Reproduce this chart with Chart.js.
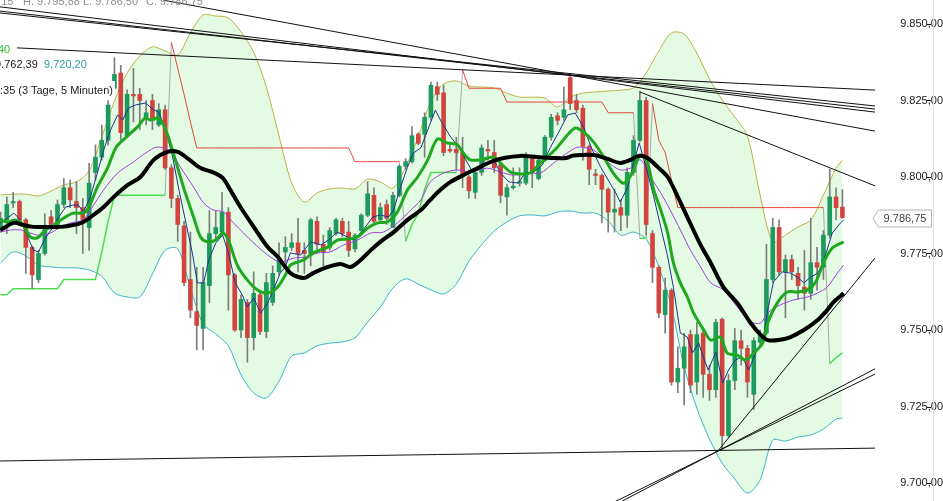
<!DOCTYPE html>
<html>
<head>
<meta charset="utf-8">
<script src="https://cdn.jsdelivr.net/npm/chart.js@4.4.0/dist/chart.umd.min.js"></script>
<style>
html, body { margin: 0; padding: 0; background: #fff; overflow: hidden; }
#wrap { position: relative; width: 943px; height: 501px; }
canvas { display: block; }
.lbl { position: absolute; font: 11px "Liberation Sans", Arial, sans-serif; line-height: 11px; white-space: nowrap; }
</style>
</head>
<body>
<div id="wrap">
  <canvas id="chart" width="943" height="501"></canvas>
  <div class="lbl" style="left:-8px;top:-4px;color:#8f8f8f">0,15</div>
  <div class="lbl" style="left:23px;top:-4px;color:#8f8f8f">H. 9.795,88</div>
  <div class="lbl" style="left:83px;top:-4px;color:#8f8f8f">L. 9.786,50</div>
  <div class="lbl" style="left:146px;top:-4px;color:#8f8f8f">C. 9.786,75</div>
  <div class="lbl" style="left:-2px;top:44px;color:#33bb33">40</div>
  <div class="lbl" style="left:-5px;top:59px;color:#1a1a1a">9.762,39</div>
  <div class="lbl" style="left:44px;top:59px;color:#2a9ca8">9.720,20</div>
  <div class="lbl" style="left:0;top:81px;height:18px;line-height:18px;padding-right:2px;background:#fff;color:#1a1a1a">:35 (3 Tage, 5 Minuten)</div>
</div>
<script>
// 5-minute candles, oldest first
const opens = [9783.5, 9786, 9791.5, 9792, 9786, 9777, 9766.5, 9775, 9787, 9783.5,
  9791, 9796.5, 9792, 9790, 9783.5, 9801.5, 9806.5, 9812, 9829, 9834,
  9813.5, 9827, 9827, 9819.5, 9825, 9817, 9822, 9803, 9793, 9784,
  9766.5, 9756, 9750.5, 9764.5, 9781.5, 9782, 9788.5, 9768, 9750, 9759,
  9747.5, 9761.5, 9749.5, 9759, 9769, 9775.5, 9777, 9778.5, 9776, 9775,
  9785.5, 9778, 9777, 9781.5, 9785.5, 9782, 9776.5, 9782.5, 9787.5, 9794,
  9786, 9791, 9783.5, 9794, 9803.5, 9805, 9814, 9814, 9819.5, 9829.5,
  9827.5, 9809, 9809, 9808, 9800, 9795, 9801.5, 9809, 9808, 9804,
  9793.5, 9796.5, 9798, 9798, 9806.5, 9799.5, 9805.5, 9813, 9820, 9819.5,
  9832.5, 9825, 9822.5, 9810, 9801, 9800.5, 9796, 9788.5, 9790, 9787.5,
  9801.5, 9812, 9825, 9781.5, 9770.5, 9755, 9763, 9733, 9737.5, 9748.5,
  9733, 9749, 9735.5, 9730.5, 9753.5, 9715.5, 9733.5, 9746.5, 9744, 9729,
  9746, 9749, 9766.5, 9783.5, 9769, 9773, 9768.5, 9764, 9762, 9772,
  9770.5, 9781, 9793.5, 9790.15];
const highs = [9788.5, 9793.5, 9795, 9792.5, 9786.5, 9777.5, 9776, 9788, 9789, 9792.5,
  9799.5, 9799, 9798.5, 9793, 9804.5, 9810.5, 9817, 9825, 9839, 9836.5,
  9828.5, 9835.5, 9829, 9825, 9827, 9824, 9823.5, 9804, 9794, 9785.5,
  9782, 9770.5, 9770.5, 9789, 9789, 9795, 9790, 9768.5, 9761.5, 9760,
  9769, 9763, 9768.5, 9771, 9778.5, 9780.5, 9781.5, 9786.5, 9778.5, 9786.5,
  9787, 9781, 9783.5, 9786.5, 9786.5, 9785.5, 9781.5, 9788, 9798.5, 9796.5,
  9791.5, 9792.5, 9795, 9804, 9806, 9816.5, 9814.5, 9821, 9831, 9831,
  9830, 9810.5, 9813, 9813, 9800.5, 9802.5, 9810.5, 9812, 9812, 9804.5,
  9797.5, 9803, 9803, 9808, 9807, 9806.5, 9813.5, 9820.5, 9821, 9829.5,
  9833.5, 9827, 9823.5, 9810.5, 9802.5, 9801, 9796.5, 9796, 9792.5, 9803,
  9813.5, 9828, 9826, 9782.5, 9771, 9767, 9763.5, 9744.5, 9749, 9750,
  9752.5, 9750, 9738.5, 9753.5, 9754, 9735.5, 9750.5, 9750, 9745, 9747.5,
  9750, 9778, 9786.5, 9786, 9774.5, 9774.5, 9770.5, 9776, 9786.5, 9777,
  9782.5, 9802.5, 9796.5, 9795.88];
const lows = [9782, 9781.5, 9790, 9785.5, 9768.5, 9763.5, 9765.5, 9774.5, 9783, 9783,
  9790, 9790, 9781.5, 9775, 9776, 9799, 9805.5, 9810.5, 9828, 9812,
  9813, 9818, 9815.5, 9817, 9815.5, 9816.5, 9802.5, 9790, 9779, 9764.5,
  9754, 9743.5, 9743.5, 9759, 9779.5, 9781, 9756.5, 9749.5, 9747.5, 9739.5,
  9743.5, 9748.5, 9747.5, 9758, 9768, 9770.5, 9776, 9769, 9768.5, 9771,
  9775, 9771, 9776, 9781, 9780.5, 9774, 9775.5, 9782, 9787, 9785,
  9785, 9784.5, 9783.5, 9793.5, 9802.5, 9804.5, 9810.5, 9806.5, 9818.5, 9825,
  9807, 9808, 9802.5, 9796.5, 9793, 9793, 9800.5, 9805.5, 9801.5, 9791.5,
  9787.5, 9796, 9797, 9797.5, 9796.5, 9799, 9805, 9812, 9817, 9818.5,
  9822, 9821, 9805.5, 9797.5, 9797.5, 9785, 9782, 9782, 9782.5, 9783.5,
  9800.5, 9811.5, 9781, 9765.5, 9754, 9749, 9732, 9729.5, 9725.5, 9729.5,
  9729, 9728, 9727, 9728, 9711, 9715, 9730.5, 9738.5, 9728, 9724,
  9745, 9748.5, 9765.5, 9768, 9754, 9766.5, 9760, 9756.5, 9760, 9763,
  9766.5, 9780, 9786, 9786.5];
const closes = [9786.5, 9791, 9792, 9786, 9777, 9768, 9775, 9783.5, 9784.5, 9791,
  9796.5, 9792.5, 9790, 9786, 9798, 9806.5, 9812, 9823.5, 9833.5, 9814.5,
  9827, 9826.5, 9825, 9821, 9818.5, 9822, 9803, 9793, 9784.5, 9765.5,
  9756.5, 9751.5, 9765.5, 9781.5, 9783.5, 9788.5, 9768, 9750, 9760, 9747.5,
  9762, 9749.5, 9765.5, 9768.5, 9773, 9777, 9778.5, 9775, 9775, 9786,
  9778, 9775.5, 9782.5, 9786, 9781.5, 9776, 9781, 9787.5, 9794.5, 9785.5,
  9790, 9786.5, 9794, 9803.5, 9805, 9813.5, 9811, 9819.5, 9830, 9827,
  9808, 9808.5, 9808, 9800.5, 9795.5, 9801.5, 9809.5, 9808.5, 9803, 9794,
  9796.5, 9797, 9798.5, 9806.5, 9801.5, 9805.5, 9813, 9819.5, 9818.5, 9822,
  9824, 9822, 9810, 9802.5, 9800.5, 9796, 9788.5, 9789.5, 9787.5, 9801.5,
  9812, 9825, 9784.5, 9770.5, 9755.5, 9763, 9733, 9737.5, 9744.5, 9732,
  9748.5, 9735.5, 9730.5, 9752.5, 9715.5, 9733.5, 9746.5, 9744, 9733, 9746.5,
  9748.5, 9766.5, 9783.5, 9769, 9773, 9769, 9764.5, 9762, 9772, 9770.5,
  9781, 9793.5, 9790, 9786.75];

// Bollinger bands, read at every second candle
const bandAt = [0, 2, 4, 6, 8, 10, 12, 14, 16, 18, 20, 22, 24, 26, 28, 30, 32, 34, 36, 38,
  40, 42, 44, 46, 48, 50, 52, 54, 56, 58, 60, 62, 64, 66, 68, 70, 72, 74, 76, 78,
  80, 82, 84, 86, 88, 90, 92, 94, 96, 98, 100, 102, 104, 106, 108, 110, 112, 114, 116, 118,
  120, 122, 124, 126, 128, 130, 132, 133];
const bandUpper = [9794.1, 9794.4, 9794.4, 9793.8, 9795.4, 9797.4, 9798.4, 9802, 9813.1, 9824.8,
  9834, 9839.5, 9842.5, 9841.2, 9839.9, 9847.1, 9852.9, 9852.6, 9852, 9847.4,
  9840.8, 9829.4, 9813.4, 9798, 9791.8, 9794.8, 9796.1, 9796.4, 9796.1, 9799.3,
  9798.4, 9796.4, 9803.3, 9813.1, 9824.8, 9830.4, 9831.4, 9829.7, 9829.4, 9829.1,
  9827.4, 9826.1, 9826.1, 9825.8, 9822.9, 9826.1, 9827.4, 9827.8, 9828.1, 9828.4,
  9829.1, 9834, 9841.2, 9847.1, 9846.7, 9840.5, 9832, 9825.2, 9819.6, 9813.4,
  9794.1, 9778.8, 9781, 9783.7, 9785.9, 9794.1, 9802.9, 9805.5];
const bandLower = [9771.9, 9775.5, 9774.2, 9771.2, 9770.6, 9770.3, 9770.3, 9769.6, 9767.6, 9762.1,
  9760.8, 9760.8, 9768.3, 9776.1, 9776.5, 9763.7, 9752, 9748.7, 9744.8, 9735.3,
  9729.4, 9727.8, 9733.3, 9741.5, 9742.5, 9744.8, 9745.7, 9746.1, 9747.4, 9752.6,
  9757.5, 9763.7, 9766.7, 9765, 9763.1, 9761.8, 9765, 9772.5, 9777.8, 9782.3,
  9785.3, 9787.3, 9787.6, 9787.3, 9788.6, 9788.9, 9788.2, 9788.2, 9785.6, 9781,
  9782, 9779.7, 9770.6, 9757.5, 9737.9, 9724.5, 9714.4, 9706.5, 9701.3, 9696.7,
  9701, 9714, 9713.7, 9715, 9715.7, 9717.6, 9720.9, 9721.2];

// moving averages as [candle index, price]
const maFast = [[0, 9785], [1.1, 9786.6], [2.1, 9788.2], [3.2, 9785.9], [4.3, 9780.4], [5.2, 9776.1], [6, 9775.5], [7.1, 9780.1],
  [8.2, 9783.3], [9.2, 9786.9], [10.3, 9790.2], [11.4, 9790.8], [12.3, 9790.8], [13.1, 9788.6], [14.2, 9793.5], [15.3, 9801.3],
  [16.3, 9808.8], [17.4, 9815.4], [18.5, 9820.3], [19.3, 9818.6], [20.2, 9822.5], [21.3, 9823.5], [22.9, 9824.2], [24.2, 9821.9],
  [25, 9821.2], [26.1, 9815.4], [27.2, 9806.5], [28.1, 9796.7], [29.2, 9785.9], [30.3, 9775.2], [31.1, 9765.4], [32.1, 9765.4],
  [32.9, 9772.9], [34, 9778.4], [35.1, 9781], [36, 9775.2], [37.1, 9765.4], [38.2, 9761.4], [39, 9757.5], [40, 9760.5],
  [41.1, 9755.5], [42.2, 9758.8], [43.1, 9763.1], [44.2, 9768.6], [45, 9770.6], [45.8, 9775.2], [47.4, 9774.5], [49, 9778.8],
  [50.6, 9777.8], [51.8, 9779.4], [53.2, 9782], [54.8, 9780.4], [55.8, 9779.4], [57.3, 9782.7], [58.8, 9786.9], [60, 9787.6],
  [61.3, 9786.9], [62.1, 9789.2], [63.2, 9796.7], [64.3, 9803.3], [65.2, 9807.8], [66.4, 9809.5], [67.5, 9815.4], [68.7, 9821.9],
  [69.5, 9818.6], [71.1, 9813.1], [72.4, 9809.8], [73.5, 9805.6], [74.6, 9801.6], [75.5, 9802.9], [76.6, 9805.6], [77.7, 9806.5],
  [79, 9801.3], [80.3, 9798.4], [81.8, 9798], [82.9, 9801.3], [84.2, 9801.6], [85.6, 9803.9], [86.9, 9809.8], [88.2, 9814.7],
  [89.6, 9820.3], [90.8, 9820.9], [92.1, 9816.3], [93.5, 9808.8], [94.8, 9803.3], [96, 9799], [97.2, 9794.8], [97.9, 9791.8],
  [99.1, 9796.7], [100, 9804.6], [100.9, 9811.1], [102.1, 9802.3], [103.2, 9793.5], [104.3, 9783.7], [105.4, 9773.9], [106.3, 9764],
  [107.4, 9749], [108.5, 9747.7], [109.3, 9742.5], [110.3, 9745.7], [111.2, 9740.2], [111.8, 9736.9], [113, 9742.8], [114.1, 9732.7],
  [115, 9736.9], [116.1, 9740.2], [117.2, 9741.2], [118.2, 9736.9], [119.3, 9742.5], [120.4, 9746.1], [121.2, 9756.5], [122.1, 9765.7],
  [123.5, 9769], [124.8, 9768.6], [125.9, 9767.3], [126.9, 9765.4], [128, 9767.3], [129.1, 9768.6], [130, 9772.2], [131.4, 9781.7],
  [132.7, 9785], [133.2, 9785.9]];
const maMid = [[0, 9782], [1.6, 9782.7], [3.2, 9782.7], [4.7, 9781.7], [6, 9781], [7.9, 9781.7], [9.5, 9783.7], [11.1, 9785],
  [13, 9785.9], [14.2, 9789.2], [16.3, 9795.8], [18.5, 9801.3], [21, 9804.9], [22.9, 9807.8], [24.8, 9809.8], [26.9, 9808.2],
  [28.4, 9803.3], [30.5, 9796.7], [32.1, 9791.5], [33.6, 9789.2], [35.2, 9788.6], [36.8, 9785], [38.4, 9781.7], [40, 9778.4],
  [42.2, 9774.5], [44.2, 9772.2], [46.3, 9773.5], [48.5, 9773.9], [50.1, 9775.2], [52.1, 9775.5], [54.2, 9777.8], [56.4, 9779.4],
  [58.5, 9781.7], [60.5, 9782], [62.7, 9785], [64.8, 9789.2], [66.4, 9792.5], [67.9, 9798.4], [70, 9801.3], [72.2, 9802.3],
  [74.2, 9801.6], [76.9, 9802.9], [79, 9801.6], [81, 9800.6], [83.3, 9801.3], [85.3, 9801.3], [87.4, 9804.6], [89.3, 9807.5],
  [90.8, 9809.5], [91.6, 9809.8], [93.7, 9808.8], [95.9, 9804.9], [97.9, 9802.3], [99.5, 9802.9], [101.1, 9805.6], [102.7, 9800],
  [104.3, 9794.8], [105.8, 9789.2], [107.4, 9782.7], [109, 9776.1], [110.6, 9770.6], [112.2, 9765.4], [114.2, 9763.1], [116.4, 9757.5],
  [118.5, 9752.6], [120.1, 9752.3], [121.2, 9755.6], [123.2, 9758.2], [125.3, 9759.8], [127.5, 9760.8], [129.1, 9762.1], [130.6, 9764],
  [132.2, 9768.6], [133.2, 9771.2]];
const maGreen = [[0, 9785.9], [1.1, 9785.3], [2.4, 9785.9], [3.6, 9784.3], [4.7, 9780.4], [5.8, 9780.1], [7.1, 9782.7], [8.4, 9784.3],
  [10, 9786.6], [11.5, 9788.2], [13, 9788.2], [13.9, 9789.9], [15.3, 9796.7], [16.9, 9802.9], [18.2, 9809.5], [19.7, 9812.7],
  [21.6, 9816.3], [22.9, 9819.3], [23.7, 9818.6], [25, 9819.3], [26.1, 9815.4], [27.3, 9807.8], [28.9, 9796.7], [30.5, 9786.9],
  [31.6, 9780.4], [32.7, 9778.8], [34, 9779.4], [35.1, 9781.7], [36, 9779.4], [37.4, 9771.2], [39, 9766.3], [40.6, 9763.1],
  [42.2, 9762.1], [43.8, 9764.1], [45, 9768], [45.8, 9771.2], [47.9, 9772.9], [49.4, 9775.2], [51.7, 9777.1], [53.2, 9779.4],
  [54.8, 9779.7], [56.4, 9780.4], [58, 9783.3], [59.6, 9785], [61.1, 9785.3], [62.7, 9788.6], [64.3, 9795.8], [65.9, 9800],
  [67.5, 9805.6], [69, 9812.4], [70.6, 9811.1], [72.2, 9810.5], [73.1, 9807.8], [74.2, 9805.6], [75.8, 9805.6], [77.9, 9806.5],
  [79.3, 9803.9], [80.6, 9801.6], [82.1, 9801], [83.7, 9801.3], [85, 9803.9], [86.4, 9806.5], [88, 9809.8], [89.3, 9813.1],
  [90.8, 9816], [92.1, 9814.7], [93.7, 9811.4], [95.3, 9806.5], [96.8, 9801.3], [98.3, 9798], [99.1, 9799], [100, 9802.3],
  [101.1, 9807.2], [102.2, 9804.6], [103.2, 9795.8], [104.3, 9789.2], [105.4, 9781.7], [106.3, 9771.9], [107.4, 9765.4], [108.5, 9760.8],
  [109.5, 9755.5], [111.1, 9750], [112.2, 9746.7], [113.7, 9747.7], [114.8, 9742.5], [116.4, 9741.8], [117.7, 9740.2], [119, 9742.5],
  [120.4, 9745.7], [121.2, 9752.3], [122.7, 9758.8], [124.3, 9762.4], [125.9, 9762.4], [127.5, 9763.1], [128.8, 9765.7], [130, 9771.9],
  [131.4, 9776.8], [133.2, 9778.8]];
const maSlow = [[0, 9782.7], [2.1, 9785], [3.6, 9784.3], [5.2, 9783.7], [7.4, 9783.7], [9.5, 9783.7], [11.5, 9784.3], [13.1, 9785.3],
  [14.7, 9787.6], [16.3, 9790.2], [17.9, 9793.5], [20.1, 9797.4], [22.1, 9800], [24.2, 9805.6], [26.4, 9808.2], [28, 9808.2],
  [29.5, 9806.2], [31.6, 9802.9], [33.5, 9801.6], [35.1, 9799.7], [36.3, 9795.8], [37.9, 9790.2], [40, 9783.7], [42.2, 9777.1],
  [43.8, 9773.9], [45.8, 9768.6], [47.9, 9767], [49.4, 9768.6], [51.7, 9770.6], [53.7, 9771.6], [55.3, 9770.6], [56.9, 9772.9],
  [58.5, 9776.1], [60, 9778.8], [62.1, 9782], [64.3, 9786], [66.4, 9789.2], [67.9, 9792.5], [69.5, 9795.8], [71.1, 9798.4],
  [73.1, 9800.6], [75.4, 9802.9], [77.4, 9804.9], [79.5, 9806.2], [82.1, 9806.9], [84.8, 9806.5], [87.4, 9806.2], [89.3, 9806.2],
  [90.5, 9807], [93.7, 9807.2], [95.9, 9805.9], [97.9, 9804.6], [99.5, 9805.6], [100.8, 9806.9], [102.2, 9806.2], [103.8, 9803.3],
  [105.4, 9800], [107, 9793.5], [108.5, 9786.9], [110.6, 9777.8], [112.2, 9771.9], [114.2, 9764], [116.4, 9758.8], [118.5, 9752.3],
  [120.1, 9748.4], [121.2, 9746.7], [122.9, 9746.7], [124.8, 9747.7], [126.9, 9750], [129.1, 9753.3], [130.6, 9756.5], [131.6, 9759.1],
  [133.2, 9762]];

// trailing stop: long side (green) and short side (red), per candle
const stopLong = [9761.5, 9761.5, 9763.5, 9763.5, 9763.5, 9763.5, 9763.5, 9763.5, 9763.5, 9763.5,
  9766.5, 9766.5, 9766.5, 9766.5, 9766.5, 9766.5, 9775.5, 9785.5, 9794, 9794,
  9794, 9794, 9794, 9794, 9794, 9794, 9794, null, null, null,
  null, null, null, null, null, null, null, null, null, null,
  null, null, null, null, null, null, null, null, null, null,
  null, null, null, null, null, null, null, null, null, null,
  null, null, null, null, 9779, 9784.5, 9788, 9796, 9801.5, 9801.5,
  9801.5, 9801.5, 9801.5, null, null, null, null, null, null, null,
  null, null, null, null, null, null, null, null, null, null,
  null, null, null, null, null, null, null, null, null, null,
  null, 9780, 9780, null, null, null, null, null, null, null,
  null, null, null, null, null, null, null, null, null, null,
  null, null, null, null, null, null, null, null, null, null,
  null, 9739, 9741, 9742.5];
const stopShort = [null, null, null, null, null, null, null, null, null, null,
  null, null, null, null, null, null, null, null, null, null,
  null, null, null, null, null, null, null, 9844, 9835.5, 9827,
  9818, 9809.5, 9809.5, 9809.5, 9809.5, 9809.5, 9809.5, 9809.5, 9809.5, 9809.5,
  9809.5, 9809.5, 9809.5, 9809.5, 9809.5, 9809.5, 9809.5, 9809.5, 9809.5, 9809.5,
  9809.5, 9809.5, 9809.5, 9809.5, 9809.5, 9809.5, 9805, 9805, 9805, 9805,
  9805, 9805, 9805, 9805, null, null, null, null, null, null,
  null, null, null, 9835, 9829, 9829, 9829, 9829, 9829, 9829,
  9824.5, 9824.5, 9824.5, 9824.5, 9824.5, 9824.5, 9824.5, 9824.5, 9824.5, 9824.5,
  9824.5, 9824.5, 9824.5, 9824.5, 9824.5, 9824.5, 9821, 9821, 9821, 9821,
  9821, null, null, 9824, 9812, 9808, 9799, 9790, 9790, 9790,
  9790, 9790, 9790, 9790, 9790, 9790, 9790, 9790, 9790, 9790,
  9790, 9790, 9790, 9790, 9790, 9790, 9790, 9790, 9790, 9790,
  9790, null, null, null];

// hand-drawn trend lines: [index1, price1, index2, price2]
const trendLines = [
  [2.6, 9842.2, 138.15, 9828.4],
  [-0.08, 9853.6, 138.15, 9823.2],
  [-0.08, 9854.2, 138.15, 9822.2],
  [-0.08, 9855.6, 138.15, 9821.2],
  [25.7, 9857.8, 138.15, 9815.0],
  [101.0, 9827.8, 138.15, 9797.1],
  [-0.08, 9707.2, 138.15, 9711.4],
  [113.3, 9710.4, 138.15, 9773.5],
  [94.7, 9690.3, 138.15, 9737.3],
  [94.7, 9691.5, 138.15, 9735.6]
];

const yTicks = [9700, 9725, 9750, 9775, 9800, 9825, 9850];

function fmt(v) {
  const parts = v.toFixed(2).split('.');
  return parts[0].replace(/\B(?=(\d{3})+(?!\d))/g, '.') + ',' + parts[1];
}
const pts = arr => arr.map(([x, y]) => ({ x, y }));

const UP = '#1e9a5c', DOWN = '#d2453f';

// gray connectors where the stop flips side
const flips = [];
for (let i = 1; i < closes.length; i++) {
  if (stopLong[i - 1] != null && stopShort[i] != null) {
    flips.push({ x: i - 1, y: stopLong[i - 1] }, { x: i, y: stopShort[i] }, { x: i, y: null });
  }
  if (stopShort[i - 1] != null && stopLong[i] != null) {
    flips.push({ x: i - 1, y: stopShort[i - 1] }, { x: i, y: stopLong[i] }, { x: i, y: null });
  }
}

const thin = { type: 'line', pointRadius: 0, borderWidth: 1, fill: false };

const datasets = [
  { ...thin, data: bandAt.map((x, i) => ({ x, y: bandUpper[i] })), borderColor: '#bdb244',
    tension: 0.3, fill: '+1', backgroundColor: '#e2fbe2', order: 20 },
  { ...thin, data: bandAt.map((x, i) => ({ x, y: bandLower[i] })), borderColor: '#3db2c8',
    tension: 0.3, order: 19 },
  { ...thin, data: stopLong.map((y, x) => ({ x, y })), borderColor: '#4fdb4f', borderWidth: 1.5, order: 18 },
  { ...thin, data: stopShort.map((y, x) => ({ x, y })), borderColor: '#e2483a', order: 18 },
  { ...thin, data: flips, borderColor: '#a8a8a8', order: 18 },
  { type: 'bar', data: lows.map((l, i) => ({ x: i, y: [l, highs[i]] })), backgroundColor: '#7c7c7c',
    barThickness: 1, grouped: false, order: 16 },
  { type: 'bar', data: opens.map((o, i) => ({ x: i, y: [o, closes[i]] })),
    backgroundColor: opens.map((o, i) => closes[i] >= o ? UP : DOWN),
    barThickness: 4, grouped: false, minBarLength: 1, order: 15 },
  { ...thin, data: pts(maMid), borderColor: '#a63ee2', tension: 0.3, order: 13 },
  { ...thin, data: pts(maFast), borderColor: '#1b3590', tension: 0, order: 12 },
  { ...thin, data: pts(maGreen), borderColor: '#1fa81f', borderWidth: 3, tension: 0.3, order: 11 },
  { ...thin, data: pts(maSlow), borderColor: '#000', borderWidth: 4, tension: 0.3, order: 10 }
];
trendLines.forEach(([x1, y1, x2, y2]) => {
  datasets.push({ ...thin, data: [{ x: x1, y: y1 }, { x: x2, y: y2 }], borderColor: '#111', order: 1 });
});

const axisExtras = {
  id: 'axisExtras',
  afterDraw(chart) {
    const { ctx, scales: { y } } = chart;
    ctx.save();
    // axis border on the far right
    ctx.strokeStyle = '#e2e2e2';
    ctx.beginPath(); ctx.moveTo(933.5, 0); ctx.lineTo(933.5, 501); ctx.stroke();
    // small tick marks after the labels
    ctx.strokeStyle = '#111';
    yTicks.forEach(v => {
      const py = Math.round(y.getPixelForValue(v)) + 0.5;
      ctx.beginPath(); ctx.moveTo(927, py); ctx.lineTo(931, py); ctx.stroke();
    });
    // last price marker
    const last = closes[closes.length - 1];
    const py = Math.round(y.getPixelForValue(last)) + 0.5;
    ctx.fillStyle = '#fff';
    ctx.strokeStyle = '#b4b4b4';
    ctx.beginPath();
    ctx.moveTo(873, py); ctx.lineTo(878.5, py - 8.5); ctx.lineTo(931.5, py - 8.5);
    ctx.lineTo(931.5, py + 8.5); ctx.lineTo(878.5, py + 8.5); ctx.closePath();
    ctx.fill(); ctx.stroke();
    ctx.fillStyle = '#444';
    ctx.font = '11px "Liberation Sans", Arial, sans-serif';
    ctx.textAlign = 'center';
    ctx.textBaseline = 'middle';
    ctx.fillText(fmt(last), 905, py + 0.5);
    ctx.restore();
  }
};

new Chart(document.getElementById('chart'), {
  type: 'line',
  data: { datasets },
  options: {
    responsive: false,
    animation: false,
    layout: { padding: 0 },
    plugins: { legend: { display: false }, tooltip: { enabled: false } },
    scales: {
      x: { type: 'linear', min: -0.08, max: 138.15, offset: false, display: false },
      y: {
        position: 'right',
        min: 9694.12,
        max: 9857.84,
        grid: { display: false, drawTicks: false },
        border: { display: false },
        ticks: {
          stepSize: 25,
          includeBounds: false,
          crossAlign: 'far',
          padding: 6,
          color: '#1a1a1a',
          font: { family: '"Liberation Sans", Arial, sans-serif', size: 11 },
          callback: v => fmt(v)
        },
        afterFit(scale) {
          scale.width = 68;
          scale.paddingTop = 0;
          scale.paddingBottom = 0;
        }
      }
    }
  },
  plugins: [axisExtras]
});
</script>
</body>
</html>
